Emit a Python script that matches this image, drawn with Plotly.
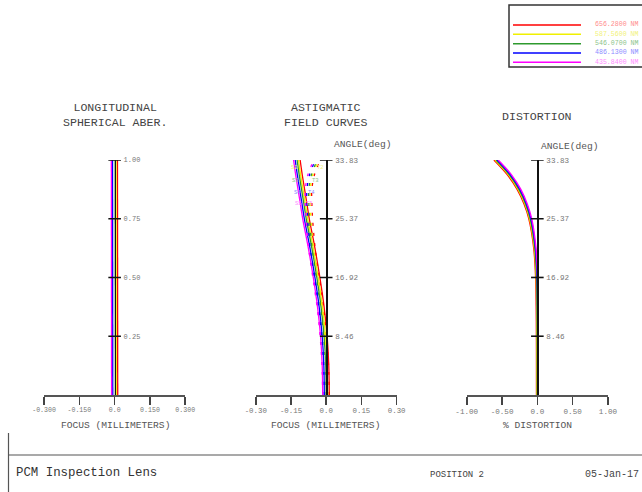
import plotly.graph_objects as go

# ---------------- data ----------------
WAVE_LABELS = ["656.2800 NM", "587.5600 NM", "546.0700 NM", "486.1300 NM", "435.8400 NM"]
LINE_COLORS = ["#ff0000", "#f0f000", "#2e9a2e", "#0000ff", "#ff00ff"]
TEXT_COLORS = ["#ff8c8c", "#f2f27a", "#8cc48c", "#8c8cff", "#ff8cff"]

# longitudinal spherical aberration: relative pupil height vs focus shift (mm)
PUPIL = [0.0, 0.25, 0.5, 0.75, 1.0]
LSA = [
    [0.013, 0.013, 0.013, 0.013, 0.012],
    [0.007, 0.007, 0.007, 0.007, 0.006],
    [0.003, 0.003, 0.003, 0.003, 0.002],
    [-0.008, -0.008, -0.008, -0.008, -0.009],
    [-0.013, -0.013, -0.013, -0.013, -0.014],
]

# field angle (deg)
ANGLE = [0.0, 4.23, 8.46, 12.69, 16.92, 21.15, 25.37, 27.5, 29.6, 31.7, 33.83]

# sagittal field curves (mm)
SAG = [
    [0.013, 0.011, 0.004, -0.009, -0.027, -0.048, -0.072, -0.082, -0.092, -0.102, -0.111],
    [0.006, 0.004, -0.003, -0.016, -0.034, -0.055, -0.079, -0.089, -0.099, -0.109, -0.118],
    [0.000, -0.002, -0.009, -0.022, -0.040, -0.061, -0.085, -0.095, -0.105, -0.115, -0.124],
    [-0.008, -0.010, -0.017, -0.030, -0.048, -0.069, -0.093, -0.103, -0.113, -0.123, -0.132],
    [-0.015, -0.017, -0.024, -0.037, -0.055, -0.076, -0.100, -0.110, -0.120, -0.130, -0.139],
]
# tangential field curves (mm)
TAN = [
    [0.013, 0.010, 0.002, -0.011, -0.029, -0.047, -0.058, -0.061, -0.061, -0.050, -0.024],
    [0.006, 0.003, -0.005, -0.018, -0.036, -0.054, -0.065, -0.068, -0.068, -0.057, -0.031],
    [0.000, -0.003, -0.011, -0.024, -0.042, -0.060, -0.071, -0.074, -0.074, -0.063, -0.037],
    [-0.008, -0.011, -0.019, -0.032, -0.050, -0.068, -0.079, -0.082, -0.082, -0.071, -0.045],
    [-0.015, -0.018, -0.026, -0.039, -0.057, -0.075, -0.086, -0.089, -0.089, -0.078, -0.052],
]
# distortion (%)
DIST = [
    [-0.012, -0.012, -0.013, -0.016, -0.024, -0.051, -0.120, -0.188, -0.286, -0.424, -0.615],
    [-0.006, -0.006, -0.007, -0.009, -0.017, -0.043, -0.110, -0.176, -0.273, -0.409, -0.600],
    [0.000, 0.000, -0.001, -0.003, -0.010, -0.035, -0.100, -0.165, -0.260, -0.395, -0.585],
    [0.006, 0.006, 0.005, 0.003, -0.003, -0.027, -0.090, -0.154, -0.247, -0.381, -0.570],
    [0.012, 0.012, 0.011, 0.009, 0.004, -0.019, -0.080, -0.143, -0.234, -0.366, -0.555],
]

LSA_XTICKS = [-0.3, -0.15, 0.0, 0.15, 0.3]
LSA_XTEXT = ["-0.300", "-0.150", "0.0", "0.150", "0.300"]
AST_XTICKS = [-0.3, -0.15, 0.0, 0.15, 0.3]
AST_XTEXT = ["-0.30", "-0.15", "0.0", "0.15", "0.30"]
DIS_XTICKS = [-1.0, -0.5, 0.0, 0.5, 1.0]
DIS_XTEXT = ["-1.00", "-0.50", "0.0", "0.50", "1.00"]
PUPIL_TICKS = [0.25, 0.5, 0.75, 1.0]
PUPIL_TEXT = ["0.25", "0.50", "0.75", "1.00"]
ANGLE_TICKS = [8.46, 16.92, 25.37, 33.83]
ANGLE_TEXT = ["8.46", "16.92", "25.37", "33.83"]

ST_LABELS = [  # (text, x mm, y deg, wavelength index)
    ("S1", -0.132, 34.45, 0), ("T1", 0.004, 34.45, 0),
    ("S2", -0.134, 32.7, 1), ("T2", -0.024, 32.7, 1),
    ("S3", -0.132, 30.95, 2), ("T3", -0.044, 30.95, 2),
    ("S4", -0.124, 29.2, 3), ("T4", -0.064, 29.2, 3),
    ("S5", -0.116, 27.6, 4), ("T5", -0.072, 27.6, 4),
]

# ---------------- page geometry ----------------
W, H = 642, 492
MONO = "Courier New, Liberation Mono, monospace"


def px(x):
    return x / W


def py(y):
    return 1 - y / H


Y_BOT, Y_TOP = 395, 160
PANELS = [  # x-pixel span of each horizontal axis
    (44.0, 185.3),
    (255.7, 396.7),
    (466.7, 608.0),
]

fig = go.Figure()

# ---- curves ----
for i in range(5):
    fig.add_trace(go.Scatter(x=LSA[i], y=PUPIL, mode="lines", xaxis="x", yaxis="y",
                             line=dict(color=LINE_COLORS[i], width=1.3), showlegend=False))
for i in range(5):
    fig.add_trace(go.Scatter(x=SAG[i], y=ANGLE, mode="lines", xaxis="x2", yaxis="y2",
                             line=dict(color=LINE_COLORS[i], width=1.3, shape="spline"),
                             showlegend=False))
for i in range(5):
    fig.add_trace(go.Scatter(x=TAN[i], y=ANGLE, mode="lines", xaxis="x2", yaxis="y2",
                             line=dict(color=LINE_COLORS[i], width=1.3, shape="spline",
                                       dash="3px,7px"),
                             showlegend=False))
for i in range(5):
    fig.add_trace(go.Scatter(x=DIST[i], y=ANGLE, mode="lines", xaxis="x3", yaxis="y3",
                             line=dict(color=LINE_COLORS[i], width=1.4, shape="spline"),
                             showlegend=False))

# crossing tick marks on the vertical axes
for ax, ticks in (("", PUPIL_TICKS), ("2", ANGLE_TICKS), ("3", ANGLE_TICKS)):
    fig.add_trace(go.Scatter(x=[0] * len(ticks), y=ticks, mode="markers",
                             xaxis="x" + ax, yaxis="y" + ax, showlegend=False,
                             marker=dict(symbol="line-ew", size=9,
                                         line=dict(color="#111", width=1.6))))

layout = dict(
    template="none",
    width=W, height=H, margin=dict(l=0, r=0, t=0, b=0, pad=0, autoexpand=False),
    paper_bgcolor="white", plot_bgcolor="rgba(0,0,0,0)",
    showlegend=False, hovermode=False,
    font=dict(family=MONO, color="#555"),
)

xinfo = [(LSA_XTICKS, LSA_XTEXT, [-0.3, 0.3]),
         (AST_XTICKS, AST_XTEXT, [-0.3, 0.3]),
         (DIS_XTICKS, DIS_XTEXT, [-1.0, 1.0])]
yinfo = [(PUPIL_TICKS, PUPIL_TEXT, [0, 1.0]),
         (ANGLE_TICKS, ANGLE_TEXT, [0, 33.83]),
         (ANGLE_TICKS, ANGLE_TEXT, [0, 33.83])]
xfont = [6.6, 7.4, 7.6]
yfont = [7.0, 7.6, 7.6]

for k in range(3):
    sfx = "" if k == 0 else str(k + 1)
    x0, x1 = PANELS[k]
    xt, xl, xr = xinfo[k]
    yt, yl, yr = yinfo[k]
    pad = (xr[1] - xr[0]) * 0.0004
    layout["xaxis" + sfx] = dict(
        domain=[px(x0), px(x1)], range=[xr[0] - pad, xr[1] + pad], anchor="y" + sfx,
        automargin=False,
        showgrid=False, zeroline=False, showline=True, linecolor="#555", linewidth=1.5,
        ticks="outside", ticklen=8, tickwidth=1.5, tickcolor="#444",
        tickvals=xt, ticktext=xl, tickfont=dict(size=xfont[k], color="#777", family=MONO),
        fixedrange=True,
    )
    zero_px = x0 + (0 - xr[0]) / (xr[1] - xr[0]) * (x1 - x0)
    layout["yaxis" + sfx] = dict(
        domain=[py(Y_BOT), py(Y_TOP)], range=yr, anchor="free", position=px(zero_px),
        automargin=False,
        side="right", showgrid=False, zeroline=False, showline=True,
        linecolor="#111", linewidth=1.5, ticks="",
        tickvals=yt, ticktext=yl, ticklabelstandoff=6,
        tickfont=dict(size=yfont[k], color="#777", family=MONO),
        fixedrange=True,
    )

ann = []


def text(x, y, s, size, color="#555", xanchor="center"):
    ann.append(dict(x=px(x), y=py(y), xref="paper", yref="paper", text=s, showarrow=False,
                    xanchor=xanchor, yanchor="middle",
                    font=dict(family=MONO, size=size, color=color)))


# panel titles
text(115, 115, "LONGITUDINAL<br>SPHERICAL ABER.", 11.6, "#444")
text(326, 115, "ASTIGMATIC<br>FIELD CURVES", 11.6, "#444")
text(537, 116, "DISTORTION", 11.6, "#444")
text(363, 145, "ANGLE(deg)", 9.6, "#555")
text(570, 146, "ANGLE(deg)", 9.6, "#555")

# axis titles
text(115, 425, "FOCUS (MILLIMETERS)", 9.6, "#555")
text(326, 425, "FOCUS (MILLIMETERS)", 9.6, "#555")
text(537, 425, "% DISTORTION", 9.6, "#555")

# curve tags on the field-curve panel
for s, xv, yv, i in ST_LABELS:
    ann.append(dict(x=xv, y=yv, xref="x2", yref="y2", text=s, showarrow=False,
                    font=dict(family=MONO, size=5.5, color=TEXT_COLORS[i])))

# wavelength key
shapes = []
shapes.append(dict(type="rect", xref="paper", yref="paper", x0=px(509), x1=px(650),
                   y0=py(67), y1=py(5), line=dict(color="#333", width=1.5)))
KEY_Y = [25, 34.3, 43.7, 53, 62.3]
for i in range(5):
    shapes.append(dict(type="line", xref="paper", yref="paper", x0=px(513), x1=px(581),
                       y0=py(KEY_Y[i]), y1=py(KEY_Y[i]),
                       line=dict(color=LINE_COLORS[i], width=1.4)))
    text(593, KEY_Y[i], WAVE_LABELS[i], 6.6, TEXT_COLORS[i], xanchor="left")

# frame around the title block
shapes.append(dict(type="line", xref="paper", yref="paper", x0=px(8.5), x1=px(650),
                   y0=py(455), y1=py(455), line=dict(color="#555", width=1.2)))
shapes.append(dict(type="line", xref="paper", yref="paper", x0=px(8.5), x1=px(8.5),
                   y0=py(433), y1=py(500), line=dict(color="#555", width=1.2)))

text(14, 473, "PCM Inspection Lens", 12.4, "#333", xanchor="left")
text(428, 475, "POSITION 2", 9.0, "#444", xanchor="left")
text(583, 474, "05-Jan-17", 10.0, "#444", xanchor="left")

layout["annotations"] = ann
layout["shapes"] = shapes
fig.update_layout(**layout)

fig.write_html("out.html", config={"displayModeBar": False, "staticPlot": True})
